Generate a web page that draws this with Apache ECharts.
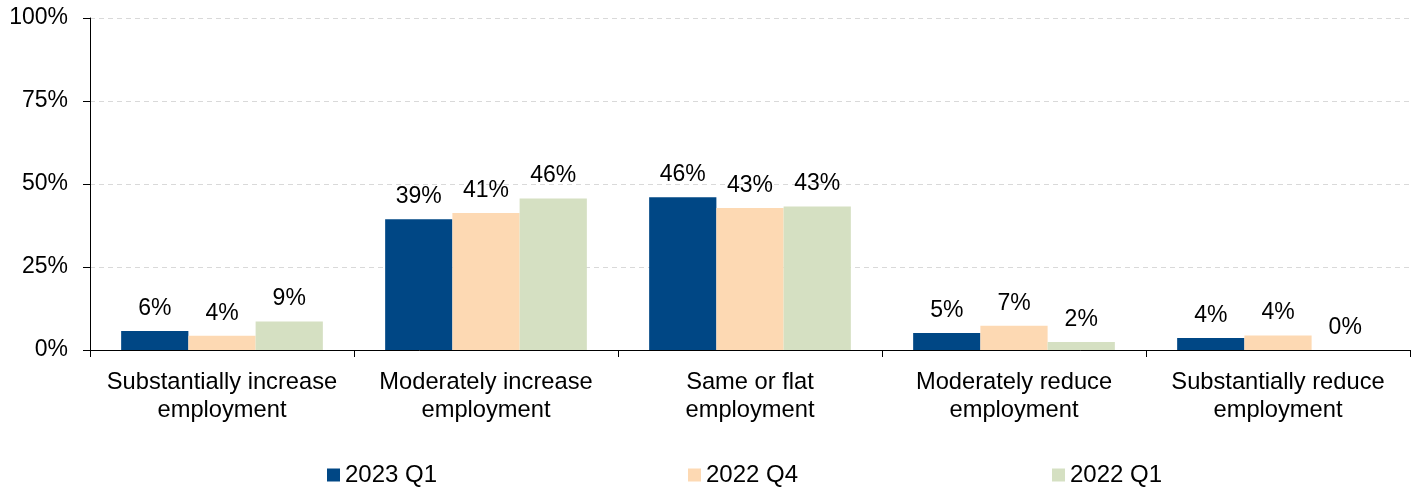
<!DOCTYPE html>
<html>
<head>
<meta charset="utf-8">
<script src="https://cdn.jsdelivr.net/npm/echarts@6/dist/echarts.min.js"></script>
<style>
html,body{margin:0;padding:0;background:#fff;}
#chart{width:1416px;height:487px;}
</style>
</head>
<body>
<div id="chart"></div>
<script>
const categories = [
  "Substantially increase\nemployment",
  "Moderately increase\nemployment",
  "Same or flat\nemployment",
  "Moderately reduce\nemployment",
  "Substantially reduce\nemployment"
];
const seriesNames = ["2023 Q1", "2022 Q4", "2022 Q1"];
const q1_2023 = [5.7, 39.4, 46.0, 5.1, 3.6];
const q4_2022 = [4.3, 41.3, 42.8, 7.3, 4.4];
const q1_2022 = [8.6, 45.6, 43.2, 2.4, 0];
const yTicks = [0, 25, 50, 75, 100];

const colors = ["#004785", "#FDD9B3", "#D5E0C2"];
const FONT = "Liberation Sans, Arial, sans-serif";
const dataSets = [q1_2023, q4_2022, q1_2022];
const legendLefts = [327, 688, 1052];

const chart = echarts.init(document.getElementById('chart'), null, {renderer: 'canvas'});
const option = {
  animation: false,
  backgroundColor: '#ffffff',
  textStyle: {fontFamily: FONT, color: '#000'},
  grid: {left: 90, right: 6, top: 18, bottom: 137, containLabel: false},
  legend: seriesNames.map((n, i) => ({
    data: [n],
    left: legendLefts[i],
    top: 463,
    padding: 0,
    itemWidth: 13,
    itemHeight: 13,
    itemGap: 5,
    icon: 'rect',
    textStyle: {fontFamily: FONT, fontSize: 24, color: '#000', padding: [0, 0, 0, 0]},
    selectedMode: false
  })),
  xAxis: {
    type: 'category',
    data: categories,
    axisLine: {show: true, lineStyle: {color: '#000', width: 1}},
    axisTick: {show: true, alignWithLabel: false, length: 7, lineStyle: {color: '#000'}},
    axisLabel: {
      interval: 0, margin: 18, fontSize: 23.7, lineHeight: 28, color: '#000',
      fontFamily: FONT, align: 'center'
    },
    splitLine: {show: false}
  },
  yAxis: {
    type: 'value',
    min: yTicks[0],
    max: yTicks[yTicks.length - 1],
    interval: 25,
    axisLine: {show: true, lineStyle: {color: '#000', width: 1}},
    axisTick: {show: true, length: 7, inside: false, lineStyle: {color: '#000'}},
    axisLabel: {
      margin: 22, fontSize: 23, color: '#000', fontFamily: FONT,
      formatter: v => v + '%'
    },
    splitLine: {show: true, lineStyle: {color: '#d9d9d9', type: [5, 4], width: 1}}
  },
  series: seriesNames.map((n, i) => ({
    name: n,
    type: 'bar',
    data: dataSets[i],
    barGap: '0%',
    barCategoryGap: '23.6%',
    itemStyle: {color: colors[i]},
    label: {
      show: true,
      position: 'top',
      distance: 11,
      fontSize: 23,
      color: '#000',
      fontFamily: FONT,
      formatter: p => Math.round(p.value) + '%'
    }
  }))
};
chart.setOption(option);
</script>
</body>
</html>
